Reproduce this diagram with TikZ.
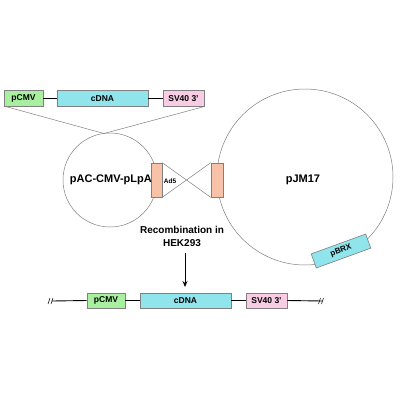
\documentclass[tikz,border=0pt]{standalone}
\usepackage{fontspec}
\setmainfont{Liberation Sans}
\usetikzlibrary{arrows.meta}
\definecolor{gfill}{HTML}{A8F0A0}
\definecolor{cfill}{HTML}{90E4EC}
\definecolor{pfill}{HTML}{F8CDE4}
\definecolor{sfill}{HTML}{F8C2A8}
\definecolor{edge}{HTML}{808080}
\tikzset{
  part/.style={draw=edge, line width=0.6pt, inner sep=0pt, minimum height=16pt, font=\fontsize{8.5}{10}\selectfont\bfseries},
  thin/.style={draw=edge, line width=0.5pt},
  link/.style={draw=black, line width=0.9pt},
  ad/.style={draw=edge, fill=sfill, line width=0.6pt, inner sep=0pt, minimum width=11pt, minimum height=34pt},
  lbl/.style={font=\fontsize{11}{13}\selectfont\bfseries, inner sep=0pt},
}
\begin{document}
\begin{tikzpicture}[x=1pt,y=-1pt]
\useasboundingbox (0,0) rectangle (400,400);
% top cassette
\node[part, fill=gfill, minimum width=39pt] (tp) at (23.5,98.5) {pCMV};
\node[part, fill=cfill, minimum width=91pt] (tc) at (102.5,98.5) {cDNA};
\node[part, fill=pfill, minimum width=41pt] (ts) at (183.5,98.5) {SV40 3'};
\draw[link] (tp.east) -- (tc.west);
\draw[link] (tc.east) -- (ts.west);
% circles
\node[circle, thin, minimum size=94pt, inner sep=0pt] (small) at (110,180) {};
\node[circle, thin, minimum size=176pt, inner sep=0pt] (big) at (305,177) {};
\coordinate (ins) at (104,133.5);
\draw[thin] ([xshift=3pt]tp.south west) -- (ins) -- ([xshift=-1pt]ts.south east);
% Ad5 boxes
\node[ad] (al) at (156.5,180) {};
\node[ad, minimum width=12pt] (ar) at (217,180) {};
\draw[thin] (al.north east) -- (ar.south west);
\draw[thin] (al.south east) -- (ar.north west);
\node[font=\fontsize{6.5}{8}\selectfont\bfseries, inner sep=0pt] (adl) at (170,181) {Ad5};
\node[lbl, anchor=east] (pac) at (152,179.5) {pAC-CMV-pLpA};
\node[lbl] (pjm) at (303,180) {pJM17};
% pBRX
\node[part, fill=cfill, minimum width=58pt, minimum height=15pt, rotate=20, font=\fontsize{8}{10}\selectfont\bfseries] (pbrx) at (341,251) {pBRX};
% recombination
\node[font=\fontsize{10}{12.5}\selectfont\bfseries, align=center, inner sep=0pt] (rec) at (182,236.5) {Recombination in\\HEK293};
\coordinate (arrS) at (185,253);
\coordinate (arrE) at (185,287);
\draw[link, -{Stealth[length=6pt,width=5pt]}] (arrS) -- (arrE);
% bottom cassette
\coordinate (bl) at (52,301);
\coordinate (br) at (322,301);
\node[part, fill=gfill, minimum width=38pt, minimum height=15pt] (bp) at (106,300.5) {pCMV};
\node[part, fill=cfill, minimum width=91pt, minimum height=15pt] (bc) at (185.5,300.5) {cDNA};
\node[part, fill=pfill, minimum width=41pt, minimum height=15pt] (bs) at (266.5,300.5) {SV40 3'};
\draw[link] (bl) -- (bp.west);
\draw[link] (bp.east) -- (bc.west);
\draw[link] (bc.east) -- (bs.west);
\draw[link] (bs.east) -- (br);
% break marks
\foreach \x in {48,51, 318.5,321.5}{
  \draw[black, line width=0.5pt] (\x,304) -- (\x+2,298);
}
\end{tikzpicture}
\end{document}
